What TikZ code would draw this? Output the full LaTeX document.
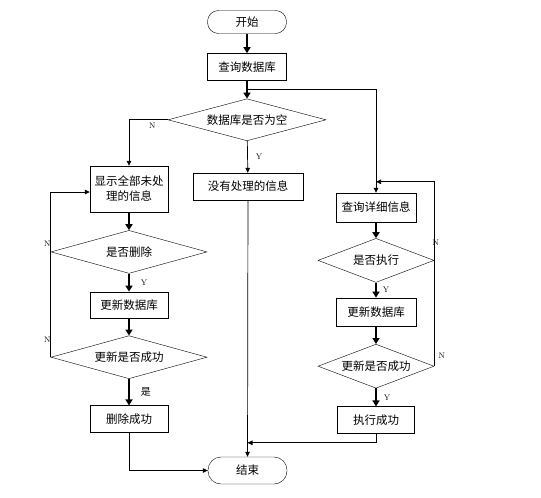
\documentclass[tikz,border=0pt]{standalone}
\usepackage{fontspec}
\newfontfamily\cjk{Noto Sans CJK SC}
\usetikzlibrary{positioning,shapes.geometric,arrows.meta,calc}

\begin{document}
\begin{tikzpicture}[x=1pt, y=-1pt,
  every node/.style={align=center},
  txt/.style={font=\cjk\fontsize{11.5}{15}\selectfont},
  term/.style={txt, draw, rounded corners=11pt, minimum width=79pt, minimum height=23pt, inner sep=0pt},
  proc/.style={txt, draw, minimum width=78pt, minimum height=27pt, inner sep=2pt},
  cond/.style={txt, draw, diamond, aspect=3.6, minimum width=156pt, minimum height=43pt, inner sep=0pt},
  rcond/.style={cond, aspect=2.6, minimum width=116pt, minimum height=44pt},
  lab/.style={font=\fontsize{8}{9}\selectfont, inner sep=1pt},
  arr/.style={-{Triangle[length=6pt,width=7pt]}, line width=1.8pt},
  tarr/.style={-{Triangle[length=5pt,width=4.5pt]}, line width=0.7pt},
  tline/.style={line width=0.7pt}]

\useasboundingbox (0,0) rectangle (541,498);

% ---------------- main column ----------------
\node[term] (start) at (247,22) {开始};
\node[proc, below=19.5pt of start, minimum width=79pt] (query) {查询数据库};
\node[cond, below=18pt of query, aspect=3.76, minimum width=158pt, minimum height=42pt] (empty) {数据库是否为空};
\node[proc, minimum width=110pt] (noinfo) at (248,186.5) {没有处理的信息};
\node[term, rounded corners=13pt, minimum height=27pt] (end) at (247.5,470.5) {结束};

% ---------------- left column ----------------
\node[proc, minimum height=46pt] (showall) at (129,189) {显示全部未处\\理的信息};
\node[cond, below=18pt of showall] (delq) {是否删除};
\node[proc, below=18pt of delq, minimum height=26pt] (upd1) {更新数据库};
\node[cond, below=17.5pt of upd1] (ok1) {更新是否成功};
\node[proc, below=26.5pt of ok1] (delok) {删除成功};

% ---------------- right column ----------------
\node[proc, minimum width=80pt, minimum height=29pt] (detail) at (376,207.5) {查询详细信息};
\node[rcond, below=16pt of detail] (exec) {是否执行};
\node[proc, below=15pt of exec, minimum width=80pt, minimum height=28pt] (upd2) {更新数据库};
\node[rcond, below=18pt of upd2] (ok2) {更新是否成功};
\node[proc, below=18pt of ok2, minimum width=77pt] (execok) {执行成功};

% ---------------- junctions ----------------
\coordinate (split) at ($(query.south)!0.5!(empty.north)$);
\coordinate (back1) at ($(showall.west)+(0,3)$);
\coordinate (back2) at ($(detail.north)+(0,-11)$);
\coordinate (merge) at ($(end.north)+(0,-14)$);

% ---------------- arrows ----------------
\draw[arr] (start) -- (query);
\draw[arr] (query) -- (empty);
\draw[tarr] (split) -| (detail.north);
\draw[tarr] (empty.west) -| (showall.north) node[lab, pos=0.2, below, yshift=-2pt] {N};
\draw[tarr] (empty) -- (noinfo) node[lab, midway, right, xshift=7pt] {Y};
\draw[tarr] (noinfo) -- (end);

\draw[arr] (showall) -- (delq);
\draw[arr] (delq) -- (upd1) node[lab, midway, right, xshift=10pt] {Y};
\draw[arr] (upd1) -- (ok1);
\draw[arr] (ok1) -- (delok) node[lab, midway, right, xshift=10pt, font=\cjk\fontsize{10}{12}\selectfont] {是};
\draw[tline] (ok1.west) -- (delq.west) node[lab, pos=0.17, left, xshift=1pt] {N};
\draw[tarr] (delq.west) |- (back1) node[lab, pos=0.07, left, xshift=1pt] {N};
\draw[tarr] (delok.south) |- (end.west);

\draw[arr] (detail) -- (exec);
\draw[arr] (exec) -- (upd2) node[lab, midway, right, xshift=5pt] {Y};
\draw[arr] (upd2) -- (ok2);
\draw[arr] (ok2) -- (execok) node[lab, midway, right, xshift=6pt] {Y};
\draw[tline] (ok2.east) -- (exec.east) node[lab, pos=0.1, right, xshift=3pt] {N};
\draw[tarr] (exec.east) |- (back2) node[lab, pos=0.115, right, xshift=-3pt] {N};
\draw[tarr] (execok.south) |- (merge);
\end{tikzpicture}
\end{document}
